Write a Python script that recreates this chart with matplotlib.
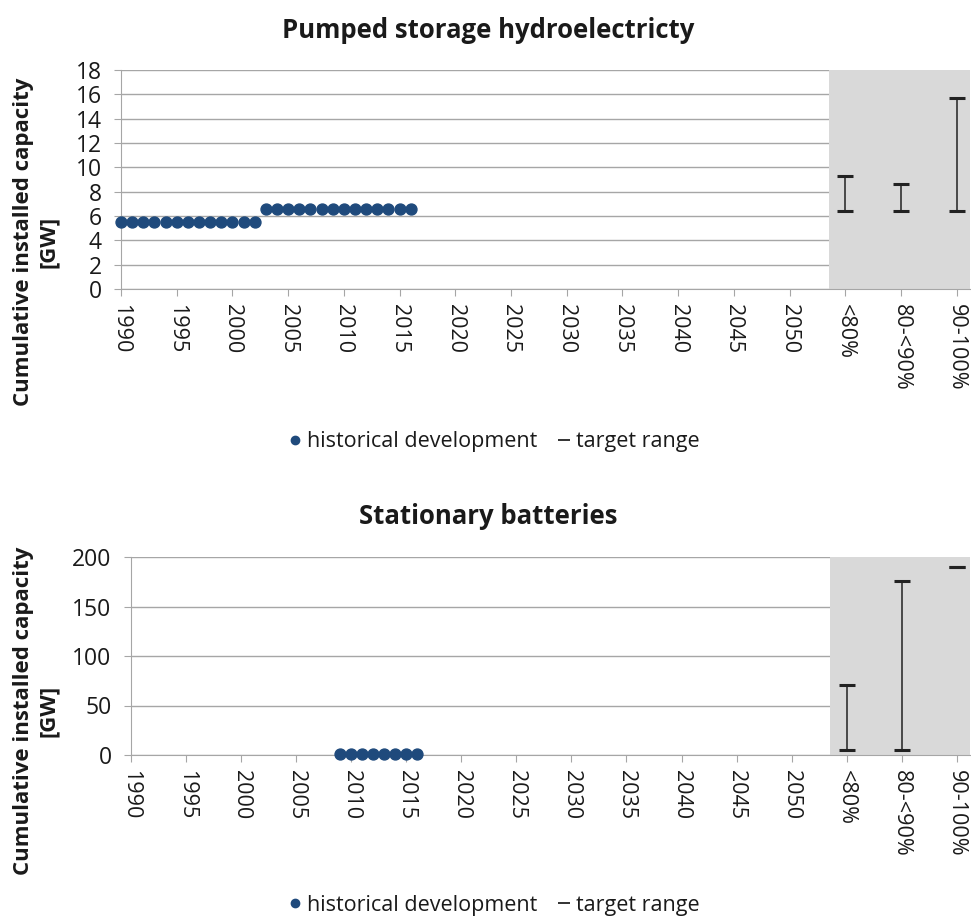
import matplotlib.pyplot as plt
from matplotlib.lines import Line2D

plt.rcParams['font.family'] = ['Open Sans', 'DejaVu Sans']

# historical development
hydro_years = list(range(1990, 2017))
hydro_values = [5.5] * 13 + [6.6] * 14
battery_years = list(range(2009, 2017))
battery_values = [0.8] * 8

# target ranges per share of renewables
target_labels = ['<80%', '80-<90%', '90-100%']
target_pos = [2055, 2060, 2065]
hydro_low = [6.4, 6.4, 6.4]
hydro_high = [9.3, 8.6, 15.7]
battery_low = [5, 5, 190]
battery_high = [71, 176, 190]

year_ticks = list(range(1990, 2051, 5))
dot_color = '#1F4A7C'
grid_color = '#A6A6A6'
text_color = '#1A1A1A'


def draw_panel(ax, years, values, low, high, ymax, ystep):
    ax.axvspan(2053.5, 2066.2, color='#D9D9D9', zorder=1, lw=0)
    ax.scatter(years, values, s=62, color=dot_color, zorder=3, clip_on=False)
    mid = [(l + h) / 2 for l, h in zip(low, high)]
    err = [[m - l for m, l in zip(mid, low)], [h - m for h, m in zip(high, mid)]]
    ax.errorbar(target_pos, mid, yerr=err, fmt='none', ecolor='#222222', elinewidth=1.1,
                capsize=5.5, capthick=2.2, zorder=3)
    ax.set_xlim(1990, 2066.2)
    ax.set_ylim(0, ymax)
    ax.set_yticks(range(0, ymax + 1, ystep))
    ax.set_xticks(year_ticks + target_pos)
    ax.set_xticklabels([str(y) for y in year_ticks] + target_labels, rotation=-90,
                       fontsize=15.5, color=text_color)
    ax.tick_params(axis='y', labelsize=16.5, length=5, color=grid_color, pad=9,
                   labelcolor=text_color)
    ax.tick_params(axis='x', length=5, color=grid_color, pad=6)
    ax.yaxis.grid(True, color=grid_color, lw=1, zorder=0)
    ax.set_axisbelow(True)
    for s in ['top', 'right']:
        ax.spines[s].set_visible(False)
    for s in ['left', 'bottom']:
        ax.spines[s].set_color(grid_color)


fig = plt.figure(figsize=(9.71, 9.17), dpi=100)
ax1 = fig.add_axes([121 / 971, 628 / 917, 849 / 971, 219 / 917])
ax2 = fig.add_axes([131 / 971, 162 / 917, 839 / 971, 198 / 917])

draw_panel(ax1, hydro_years, hydro_values, hydro_low, hydro_high, 18, 2)
draw_panel(ax2, battery_years, battery_values, battery_low, battery_high, 200, 50)

titles = ['Pumped storage hydroelectricty', 'Stationary batteries']
for title, ytitle, ylab in zip(titles, [30, 516], [242, 711]):
    fig.text(488 / 971, 1 - ytitle / 917, title, fontsize=18.5, fontweight='bold',
             ha='center', va='center', color=text_color)
    fig.text(36 / 971, 1 - ylab / 917, 'Cumulative installed capacity\n[GW]', fontsize=16,
             fontweight='bold', rotation=90, ha='center', va='center',
             multialignment='center', linespacing=1.25, color=text_color)

handles = [Line2D([], [], ls='none', marker='o', markersize=6, color=dot_color),
           Line2D([], [], ls='none', marker='_', markersize=9, mew=1.3, color='#222222')]
names = ['historical development', 'target range']
for ypos in [442 / 917, 905 / 917]:
    fig.legend(handles, names, loc='center', bbox_to_anchor=(495 / 971, 1 - ypos), ncol=2,
               frameon=False, fontsize=15.5, handlelength=0.5, handletextpad=0.3,
               columnspacing=1.0, labelcolor=text_color)

fig.savefig('out.png', dpi=100)
